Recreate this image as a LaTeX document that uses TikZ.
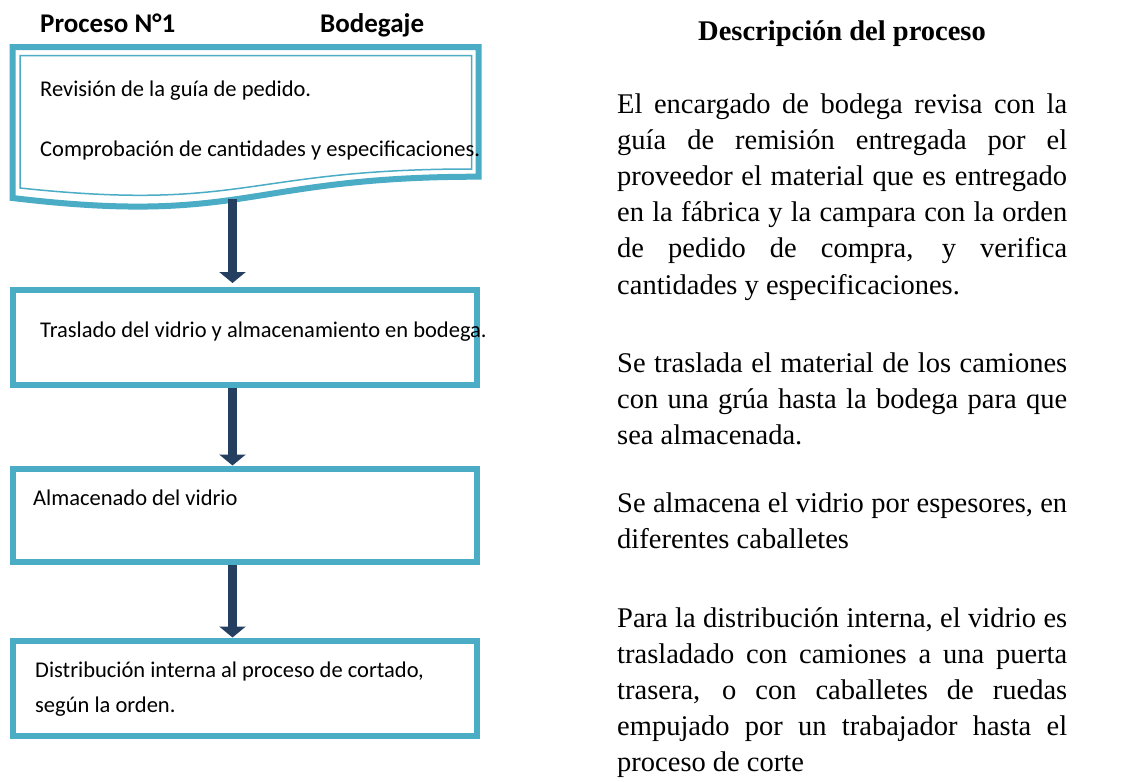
\documentclass[tikz,border=0pt]{standalone}
\usepackage{fontspec}
\setmainfont{Liberation Serif}
\newfontfamily\calibri{Carlito}
\usetikzlibrary{arrows.meta}
\definecolor{boxblue}{RGB}{75,172,198}
\definecolor{arrownavy}{RGB}{36,63,96}
\begin{document}
\begin{tikzpicture}[x=1pt,y=-1pt,
  procbox/.style={draw=boxblue, line width=6pt, minimum width=463.5pt, inner sep=0pt},
  lefttext/.style={font=\calibri\fontsize{22.5}{26}\selectfont, inner sep=0pt, anchor=base west},
  headtext/.style={font=\calibri\bfseries\fontsize{27}{30}\selectfont, inner sep=0pt, anchor=base west},
  flowarrow/.style={draw=arrownavy, line width=9pt, -{Triangle[width=26pt,length=11pt]}},
  desc/.style={font=\fontsize{28.5}{36.2}\selectfont, text width=450pt, align=justify, inner sep=0pt, anchor=base west}]
\fill[white] (0,0) rectangle (1144,782);
\useasboundingbox (0,0) rectangle (1144,782);
% headers
\node[headtext] (h1) at (40,32) {Proceso N°1};
\node[headtext] (h2) at (320,32) {Bodegaje};
% document shape
\draw[boxblue, line width=6pt, line join=miter] (12.5,47) -- (478.5,47) -- (478.5,176.7)
  .. controls (245.5,176.7) and (245.5,225.9) .. (12.5,198) -- cycle;
\draw[boxblue, line width=1.5pt] (20,55.5) -- (471.5,55.5) -- (471.5,169)
  .. controls (245.5,169) and (245.5,212) .. (20,188) -- cycle;
\coordinate (docbottom) at (232.5,199);
\node[lefttext] (t1a) at (40,96) {Revisión de la guía de pedido.};
\node[lefttext] (t1b) at (40,156) {Comprobación de cantidades y especificaciones.};
% boxes
\node[procbox, minimum height=95pt] (b2) at (244.75,337.5) {};
\node[procbox, minimum height=93.5pt] (b3) at (244.75,515.25) {};
\node[procbox, minimum height=95pt] (b4) at (244.75,688) {};
\node[lefttext] (t2) at (40,337) {Traslado del vidrio y almacenamiento en bodega.};
\node[lefttext] (t3) at (33,505) {Almacenado del vidrio};
\node[lefttext] (t4a) at (35,677) {Distribución interna al proceso de cortado,};
\node[lefttext] (t4b) at (35,712) {según la orden.};
% arrows
\draw[flowarrow, shorten >=4pt] (docbottom) -- (docbottom |- b2.north);
\draw[flowarrow] (b2.south -| docbottom) -- (b3.north -| docbottom);
\draw[flowarrow] (b3.south -| docbottom) -- (b4.north -| docbottom);
% description
\node[font=\bfseries\fontsize{28.5}{30}\selectfont, inner sep=0pt, anchor=base] (rh) at (842,40) {Descripción del proceso};
\node[desc] (p1) at (617,113) {El encargado de bodega revisa con la\linebreak guía de remisión entregada por el\linebreak proveedor el material que es entregado\linebreak en la fábrica y la campara con la orden\linebreak de pedido de compra, y verifica\linebreak cantidades y especificaciones.};
\node[desc] (p2) at (617,372) {Se traslada el material de los camiones\linebreak con una grúa hasta la bodega para que\linebreak sea almacenada.};
\node[desc] (p3) at (617,512) {Se almacena el vidrio por espesores, en\linebreak diferentes caballetes};
\node[desc] (p4) at (617,627) {Para la distribución interna, el vidrio es\linebreak trasladado con camiones a una puerta\linebreak trasera, o con caballetes de ruedas\linebreak empujado por un trabajador hasta el\linebreak proceso de corte};
\end{tikzpicture}
\end{document}
